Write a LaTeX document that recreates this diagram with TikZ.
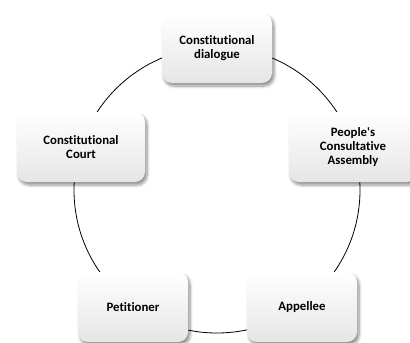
\documentclass[tikz,border=0pt]{standalone}
\usepackage{fontspec}
\setmainfont[Ligatures={NoCommon,NoContextual}, RawFeature={-liga;-clig;-dlig}]{Carlito}
\usetikzlibrary{shadows.blur}
\begin{document}
\begin{tikzpicture}[x=1pt,y=-1pt,
  stepbox/.style={rounded corners=10pt, minimum height=70pt, align=center,
    top color=white, bottom color=black!10, draw=none,
    blur shadow={shadow xshift=2pt, shadow yshift=-3pt, shadow opacity=45, shadow blur steps=6, shadow blur radius=3pt},
    font=\fontsize{12.8}{13.8}\selectfont\bfseries, inner sep=2pt},
  narrow/.style={stepbox, minimum width=110pt},
  wide/.style={stepbox, minimum width=128pt},
  ring/.style={draw=black, line width=0.8pt}]
\useasboundingbox (0,0) rectangle (410,343);
\clip (0,0) rectangle (410,343);
\coordinate (c) at (217,190);
\draw[ring] (c) circle (143pt);
\node[narrow] (dialogue) at (217,48) {Constitutional\\dialogue};
\node[wide] (mpr) at (353,147) {People\textquotesingle s\\Consultative\\Assembly};
\node[narrow] (appellee) at (302,307) {Appellee};
\node[narrow] (petitioner) at (133,307) {Petitioner};
\node[wide] (court) at (81,147) {Constitutional\\Court};
\end{tikzpicture}
\end{document}
